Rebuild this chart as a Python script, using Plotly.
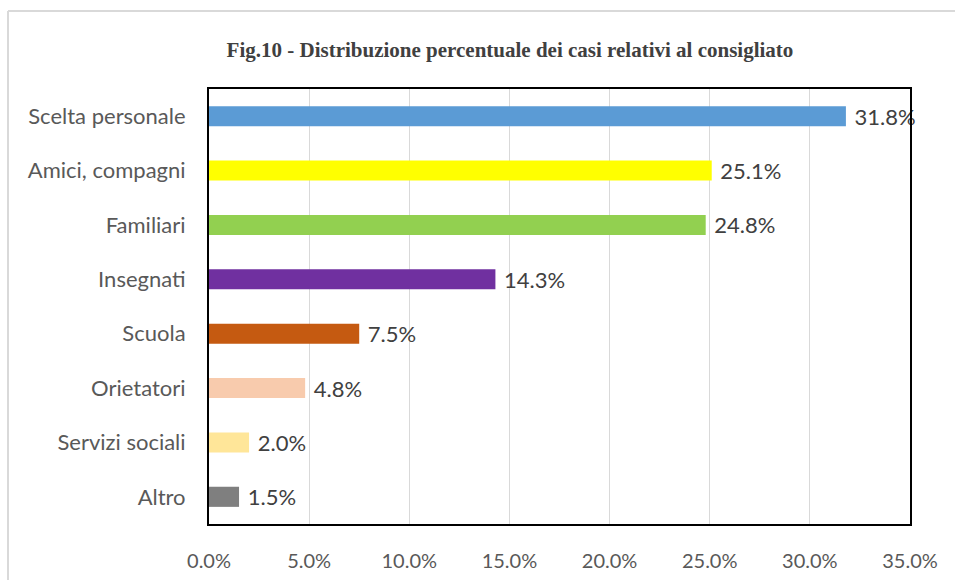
import plotly.graph_objects as go

categories = ["Scelta personale", "Amici, compagni", "Familiari", "Insegnati",
              "Scuola", "Orietatori", "Servizi sociali", "Altro"]
values = [31.8, 25.1, 24.8, 14.3, 7.5, 4.8, 2.0, 1.5]
colors = ["#5b9bd5", "#ffff00", "#92d050", "#7030a0",
          "#c55a11", "#f8cbad", "#ffe699", "#7f7f7f"]
tick_vals = [0, 5, 10, 15, 20, 25, 30, 35]
tick_text = ["0.0%", "5.0%", "10.0%", "15.0%", "20.0%", "25.0%", "30.0%", "35.0%"]
title_text = "Fig.10 - Distribuzione percentuale dei casi relativi al consigliato"

W, H = 955, 580
L, R, T, B = 209, 45, 89, 56
pw, ph = W - L - R, H - T - B

fig = go.Figure(go.Bar(
    x=values, y=categories, orientation="h",
    marker=dict(color=colors, line=dict(width=0)),
    text=[f" {v:.1f}%" for v in values], textposition="outside",
    constraintext="none",
    textfont=dict(family="Lato", size=22, color="#404040"),
    cliponaxis=False, hoverinfo="skip",
))

# outer light-gray chart frame (top and left edges visible)
fx = (8 - L) / pw
fy_top = 1 + (T - 11) / ph
fy_bot = -(B + 5) / ph
fx_right = 1 + (R + 5) / pw
fig.add_shape(type="line", xref="paper", yref="paper", x0=fx, x1=fx, y0=fy_bot, y1=fy_top,
              line=dict(color="#d9d9d9", width=2), layer="below")
fig.add_shape(type="line", xref="paper", yref="paper", x0=fx, x1=fx_right, y0=fy_top, y1=fy_top,
              line=dict(color="#d9d9d9", width=2), layer="below")

fig.update_layout(
    width=W, height=H,
    margin=dict(l=L, r=R, t=T, b=B, autoexpand=False),
    paper_bgcolor="white", plot_bgcolor="white",
    showlegend=False, bargap=0.63,
    title=dict(text=f"<b>{title_text}</b>", x=510 / W, xanchor="center",
               y=1 - 50 / H, yanchor="middle", yref="container",
               font=dict(family="Liberation Serif", size=21, color="#404040")),
    xaxis=dict(range=[0, 35], tickvals=tick_vals, ticktext=tick_text,
               showgrid=True, gridcolor="#d9d9d9", gridwidth=1, zeroline=False,
               showline=True, linecolor="black", linewidth=2, mirror=True,
               ticks="", ticklabelstandoff=18,
               tickfont=dict(family="Lato", size=20, color="#595959")),
    yaxis=dict(categoryorder="array", categoryarray=categories, autorange="reversed",
               showgrid=False, zeroline=False,
               showline=True, linecolor="black", linewidth=2, mirror=True,
               ticks="", ticklabelstandoff=17,
               tickfont=dict(family="Lato", size=22, color="#595959")),
)

fig.write_html("out.html", config={"displayModeBar": False},
               post_script="document.body.style.margin='0';document.body.style.overflow='hidden';")
